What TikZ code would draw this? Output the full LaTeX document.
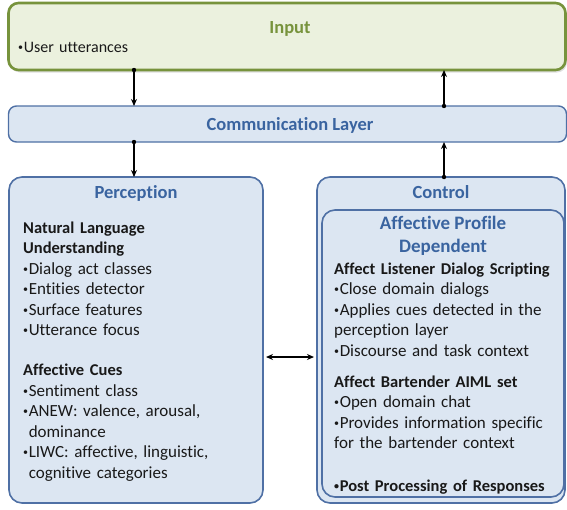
\documentclass[tikz,border=0pt]{standalone}
\usepackage{fontspec}
\setmainfont{Carlito}[Ligatures=NoCommon]
\usetikzlibrary{arrows.meta,shadows}

\definecolor{boxblue}{RGB}{220,230,242}
\definecolor{edgeblue}{RGB}{79,112,165}
\definecolor{titleblue}{RGB}{58,100,160}
\definecolor{boxgreen}{RGB}{235,241,222}
\definecolor{edgegreen}{RGB}{119,147,60}
\definecolor{bodytext}{RGB}{25,25,25}

% small list bullet
\newcommand\blt{{\fontsize{10}{10}\selectfont\raisebox{1.6pt}{•}}\kern0.6pt}
\newcommand\bltgap{\phantom{\blt}}

\tikzset{
  panel/.style={draw=edgeblue, fill=boxblue, line width=1.6pt, rounded corners=13pt,
    rectangle, outer sep=0pt, inner sep=0pt},
  inputpanel/.style={draw=edgegreen, fill=boxgreen, line width=2.6pt, rounded corners=10pt,
    rectangle, outer sep=0pt, inner sep=0pt,
    drop shadow={opacity=0.25, shadow xshift=1.5pt, shadow yshift=-2.5pt}},
  paneltitle/.style={text=titleblue, font=\fontsize{18.5}{23}\selectfont\bfseries,
    inner sep=0pt, anchor=base, align=center},
  bodyblock/.style={text=bodytext, font=\fontsize{17}{20.5}\selectfont,
    inner sep=0pt, anchor=base west, align=left, text width=#1},
  head/.style={},
  link/.style={line width=1.2pt, -{Stealth[length=7pt,width=6pt]}},
  twoway/.style={line width=1.2pt, {Stealth[length=7pt,width=6pt]}-{Stealth[length=7pt,width=6pt]},
    shorten <=3pt, shorten >=3pt},
  joint/.style={fill=black}
}
\newcommand\hd[1]{{\fontsize{16.5}{20.5}\selectfont\bfseries #1}}

\begin{document}
\begin{tikzpicture}[x=1pt, y=-1pt]
  \useasboundingbox (0,0) rectangle (567,509);

  % boxes
  \node[inputpanel, minimum width=557pt, minimum height=67pt] (input) at (287,36.5) {};
  \node[panel, line width=1.4pt, rounded corners=8pt, minimum width=558pt, minimum height=36pt] (comm) at (287.5,124) {};
  \node[panel, minimum width=254pt, minimum height=326pt] (perc) at (136,340) {};
  \node[panel, minimum width=248pt, minimum height=326pt] (ctrl) at (441,340) {};
  \node[panel, minimum width=242pt, minimum height=287pt] (prof) at (443,353.5) {};

  % titles
  \node[paneltitle, text=edgegreen] (intitle) at (290,33) {Input};
  \node[paneltitle] (commtitle) at (290,130) {Communication Layer};
  \node[paneltitle] (perctitle) at (136,198) {Perception};
  \node[paneltitle] (ctrltitle) at (441,198) {Control};
  \node[paneltitle, font=\fontsize{19}{23}\selectfont\bfseries] (proftitle) at (443,252) {Affective Profile\\Dependent};

  % input text
  \node[bodyblock=200pt, font=\fontsize{16}{20}\selectfont] (intext) at (18,52) {\blt User utterances};

  % perception text
  \node[bodyblock=235pt] (perctext) at (23,233) {%
    \hd{Natural Language}\\
    \hd{Understanding}\\
    \blt Dialog act classes\\
    \blt Entities detector\\
    \blt Surface features\\
    \blt Utterance focus\\[19.5pt]
    \hd{Affective Cues}\\
    \blt Sentiment class\\
    \blt ANEW: valence, arousal,\\
    \bltgap dominance\\
    \blt LIWC: affective, linguistic,\\
    \bltgap cognitive categories};

  % control text
  \node[bodyblock=228pt] (ctrltext) at (334,274) {%
    \hd{Affect Listener Dialog Scripting}\\
    \blt Close domain dialogs\\
    \blt Applies cues detected in the\\
    perception layer\\
    \blt Discourse and task context\\[10.5pt]
    \hd{Affect Bartender AIML set}\\
    \blt Open domain chat\\
    \blt Provides information specific\\
    for the bartender context\\[22.5pt]
    \hd{\blt Post Processing of Responses}};

  % connector columns
  \coordinate (lx) at (134,0);
  \coordinate (rx) at (444,0);
  \coordinate (my) at (0,357);

  \draw[link] (input.south -| lx) -- (comm.north -| lx);
  \fill[joint] (input.south -| lx) circle (2.2pt);
  \draw[link] (comm.north -| rx) -- (input.south -| rx);
  \fill[joint] (comm.north -| rx) circle (2.2pt);
  \draw[link] (comm.south -| lx) -- (perc.north -| lx);
  \fill[joint] (comm.south -| lx) circle (2.2pt);
  \draw[link] (ctrl.north -| rx) -- (comm.south -| rx);
  \fill[joint] (ctrl.north -| rx) circle (2.2pt);
  \draw[twoway] (perc.east |- my) -- (ctrl.west |- my);
\end{tikzpicture}
\end{document}
